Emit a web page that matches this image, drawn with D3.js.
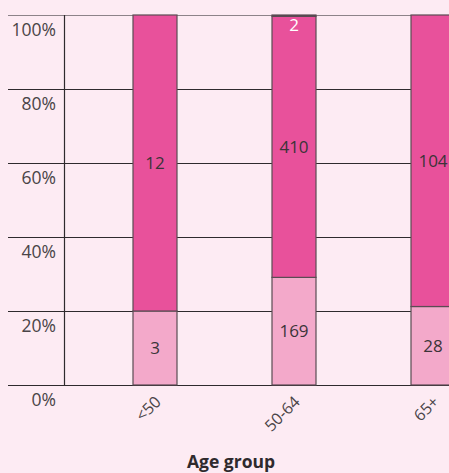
<!DOCTYPE html>
<html><head><meta charset="utf-8">
<script src="https://cdn.jsdelivr.net/npm/d3@7"></script>
<style>
html,body{margin:0;padding:0;background:#fdebf3;}
svg{display:block;font-family:"Open Sans","Noto Sans",sans-serif;}
</style></head><body>
<svg id="c" width="449" height="473"></svg>
<script>
const categories = ["<50", "50-64", "65+"];
const seriesNames = ["low", "mid", "high"];
const lowValues = [3, 169, 28];
const midValues = [12, 410, 104];
const highValues = [0, 2, 0];
const yTicks = [0, 0.2, 0.4, 0.6, 0.8, 1.0];
const yTickLabels = ["0%", "20%", "40%", "60%", "80%", "100%"];
const xTitle = "Age group";

const colors = {low: "#f3a9ca", mid: "#e8519b", high: "#3a2c33"};
const labelColors = {low: "#3b3438", mid: "#3b3438", high: "#ffffff"};

const svg = d3.select("#c");
const W = 449, H = 473;
const plotLeft = 64.5, plotTop = 15, plotBottom = 385;

const rows = categories.map((c, i) => ({cat: c, low: lowValues[i], mid: midValues[i], high: highValues[i]}));
const stack = d3.stack().keys(seriesNames).offset(d3.stackOffsetExpand);
const series = stack(rows);

const x = d3.scaleBand().domain(categories).range([plotLeft, plotLeft + 459]).paddingInner(0.6835).paddingOuter(0.4928);
const y = d3.scaleLinear().domain([0, 1]).range([plotBottom, plotTop]);

// gridlines
svg.append("g").selectAll("line").data(yTicks).join("line")
  .attr("x1", 8).attr("x2", W)
  .attr("y1", d => y(d) + 0.5).attr("y2", d => y(d) + 0.5)
  .attr("stroke", d => d === 1 ? "#8d8389" : "#2f2a2d").attr("stroke-width", 1.2);

// vertical axis line
svg.append("line").attr("x1", plotLeft).attr("x2", plotLeft).attr("y1", y(1)).attr("y2", y(0))
  .attr("stroke", "#2f2a2d").attr("stroke-width", 1.2);

// y labels (below each gridline)
svg.append("g").selectAll("text").data(yTicks).join("text")
  .attr("x", 56).attr("y", d => y(d) + 21)
  .attr("text-anchor", "end").attr("font-size", 17.5).attr("fill", "#4a4447")
  .text((d, i) => yTickLabels[i]);

// bars
const g = svg.append("g");
series.forEach(s => {
  g.append("g").selectAll("rect").data(s).join("rect")
    .attr("x", d => x(d.data.cat))
    .attr("y", d => y(d[1]))
    .attr("width", x.bandwidth())
    .attr("height", d => Math.max(0, y(d[0]) - y(d[1])))
    .attr("fill", colors[s.key])
    .attr("stroke", "#5a4c53").attr("stroke-width", 1.2)
    .style("display", d => d.data[s.key] > 0 ? null : "none");
});

// value labels
series.forEach(s => {
  svg.append("g").selectAll("text").data(s.filter(d => d.data[s.key] > 0)).join("text")
    .attr("x", d => x(d.data.cat) + x.bandwidth() / 2)
    .attr("y", d => s.key === "high" ? y(d[0]) + 15 : (y(d[0]) + y(d[1])) / 2 + 6)
    .attr("text-anchor", "middle").attr("font-size", 17)
    .attr("fill", labelColors[s.key])
    .text(d => d.data[s.key]);
});

// x tick labels rotated
svg.append("g").selectAll("text").data(categories).join("text")
  .attr("transform", d => `translate(${x(d) + x.bandwidth() / 2 - 1},${plotBottom + 10}) rotate(-45)`)
  .attr("text-anchor", "end").attr("dy", "0.7em").attr("font-size", 16).attr("fill", "#4a4447")
  .text(d => d);

// x title
svg.append("text").attr("x", 231).attr("y", 468)
  .attr("text-anchor", "middle").attr("font-size", 17.5).attr("font-weight", "bold").attr("fill", "#2f2a2d")
  .text(xTitle);
</script>
</body></html>
